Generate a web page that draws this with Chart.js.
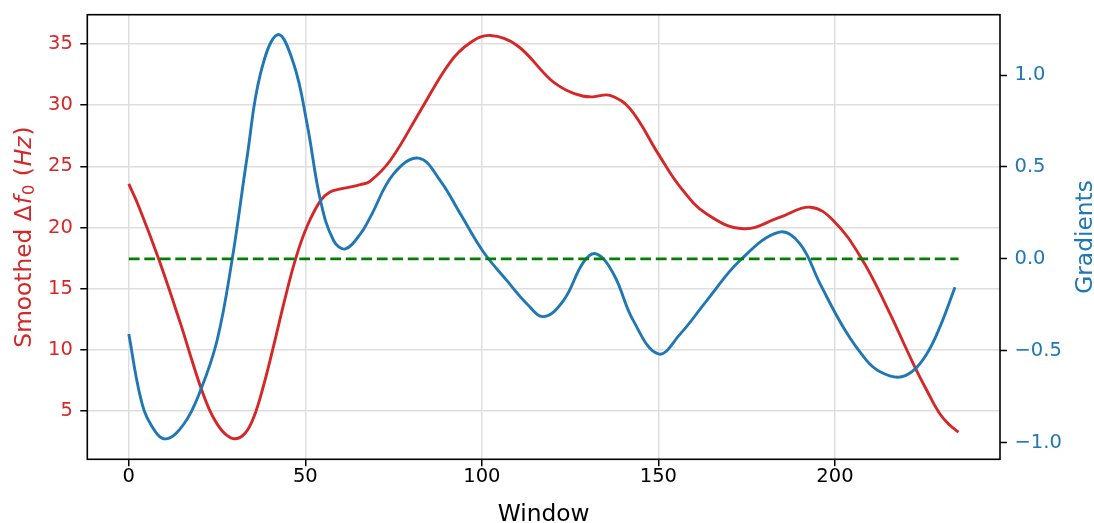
<!DOCTYPE html>
<html>
<head>
<meta charset="utf-8">
<script src="https://cdn.jsdelivr.net/npm/chart.js@4.4.1/dist/chart.umd.min.js"></script>
<style>
  html, body { margin: 0; padding: 0; background: #ffffff; }
  #wrap { width: 1094px; height: 523px; }
</style>
</head>
<body>
<div id="wrap"><canvas id="chart" width="1094" height="523"></canvas></div>
<script>
// Smoothed pitch-shift curve (left axis, Hz) sampled by analysis window
const windowsF0 = [0, 3, 8.5, 14.7, 17.5, 20.3, 22.7, 25, 27.6, 30.2, 33, 35.4, 38, 41, 44, 47.2, 50.5, 54.3, 57, 60, 65.6, 68.4, 74.1, 82.6, 91, 96.7, 102.4, 109.9, 119.4, 124.1, 128.5, 131.5, 136.3, 142, 150, 156.2, 163.7, 174.1, 184.5, 193, 199.6, 207.6, 214.7, 222.2, 226, 229.7, 232.5, 235];
const smoothedF0 = [23.56, 21.6, 17.4, 12.1, 9.5, 7.0, 5.2, 3.95, 3.05, 2.73, 3.2, 4.5, 6.9, 10.3, 13.9, 17.4, 20.1, 22.2, 22.9, 23.15, 23.5, 23.8, 25.5, 29.55, 33.5, 35.1, 35.7, 34.9, 32.1, 31.2, 30.75, 30.68, 30.8, 29.7, 26.0, 23.3, 21.1, 19.9, 20.84, 21.66, 20.56, 17.43, 13.49, 8.86, 6.7, 4.77, 3.85, 3.27];

// Gradient of the smoothed curve (right axis)
const windowsGrad = [0, 3.3, 6.2, 10.4, 15.6, 20.3, 25, 29.3, 33.5, 37.3, 42.2, 46.7, 50.5, 54.3, 58, 61.3, 65.6, 68.4, 75, 82.1, 88.2, 93.9, 100.5, 107.1, 112.8, 117.5, 123.1, 128.8, 132.4, 137.3, 142.9, 150, 156.2, 163.7, 173.1, 184.2, 190.1, 195.8, 202.8, 209, 212.8, 217.9, 222, 226, 229.7, 234];
const gradients = [-0.408, -0.752, -0.9, -0.979, -0.898, -0.716, -0.444, 0.0, 0.553, 1.007, 1.22, 1.061, 0.734, 0.317, 0.1, 0.054, 0.136, 0.227, 0.462, 0.548, 0.426, 0.245, 0.036, -0.118, -0.245, -0.314, -0.227, -0.018, 0.027, -0.082, -0.336, -0.517, -0.408, -0.227, -0.009, 0.145, 0.082, -0.136, -0.386, -0.553, -0.614, -0.644, -0.611, -0.517, -0.372, -0.154];

// Zero-gradient reference line
const zeroLineWindows = [0, 235];
const zeroLineLevel = [0, 0];

// Tick positions
const windowTicks = [0, 50, 100, 150, 200];
const f0Ticks = [5, 10, 15, 20, 25, 30, 35];
const gradTicks = [-1.0, -0.5, 0.0, 0.5, 1.0];

const RED = '#d62728';
const BLUE = '#1f77b4';
const GREEN = '#008000';
const GRID = '#dedede';
const FONT = "'DejaVu Sans', 'Liberation Sans', sans-serif";
const TICK_SIZE = 19.5;
const LABEL_SIZE = 23.3;

const pairs = (xs, ys) => xs.map((x, i) => ({ x: x, y: ys[i] }));
const fmtMinus = v => (v < 0 ? '\u2212' : '') + Math.abs(v).toFixed(1);

// Draws a run of differently styled text pieces along a (possibly rotated) baseline, centred on (cx, cy)
function drawRichText(ctx, pieces, cx, cy, angle, color) {
  ctx.save();
  ctx.translate(cx, cy);
  ctx.rotate(angle);
  ctx.fillStyle = color;
  ctx.textBaseline = 'alphabetic';
  ctx.textAlign = 'left';
  let total = 0;
  pieces.forEach(p => { ctx.font = p.font; p.w = ctx.measureText(p.text).width + (p.gap || 0); total += p.w; });
  let x = -total / 2;
  pieces.forEach(p => {
    ctx.font = p.font;
    ctx.fillText(p.text, x, p.dy || 0);
    x += p.w;
  });
  ctx.restore();
}

// Keeps the plot area at a fixed box regardless of label overhang
const noOverhang = s => { s.paddingTop = 0; s.paddingBottom = 0; s.paddingLeft = 0; s.paddingRight = 0; };

const framePlugin = {
  id: 'frameAndTitles',
  afterDraw(chart) {
    const { ctx, chartArea: a } = chart;
    ctx.save();
    ctx.strokeStyle = '#000000';
    ctx.lineWidth = 1.6;
    ctx.strokeRect(a.left, a.top, a.right - a.left, a.bottom - a.top);
    ctx.restore();

    const midY = (a.top + a.bottom) / 2;
    const reg = `${LABEL_SIZE}px ${FONT}`;
    const ita = `italic ${LABEL_SIZE}px ${FONT}`;
    const subUp = `${LABEL_SIZE * 0.7}px ${FONT}`;

    // Left axis title: Smoothed Δf₀ (Hz)
    drawRichText(ctx, [
      { text: 'Smoothed ', font: reg },
      { text: '\u0394', font: reg, gap: 1 },
      { text: 'f', font: ita, gap: 1 },
      { text: '0', font: subUp, dy: LABEL_SIZE * 0.15, gap: 1 },
      { text: ' ', font: reg },
      { text: '(', font: reg, gap: 1 },
      { text: 'Hz', font: ita, gap: 1 },
      { text: ')', font: reg }
    ], 30.5, midY, -Math.PI / 2, RED);

    // Right axis title
    drawRichText(ctx, [{ text: 'Gradients', font: reg }], 1092, midY, -Math.PI / 2, BLUE);

    // Bottom axis title
    drawRichText(ctx, [{ text: 'Window', font: reg }], (a.left + a.right) / 2, 521, 0, '#000000');
  }
};

new Chart(document.getElementById('chart'), {
  type: 'line',
  data: {
    datasets: [
      {
        label: 'zero',
        data: pairs(zeroLineWindows, zeroLineLevel),
        yAxisID: 'yGrad',
        borderColor: GREEN,
        borderWidth: 2.9,
        borderDash: [10.8, 4.7],
        pointRadius: 0,
        order: 1
      },
      {
        label: 'Gradients',
        data: pairs(windowsGrad, gradients),
        yAxisID: 'yGrad',
        borderColor: BLUE,
        borderWidth: 2.9,
        tension: 0.4,
        pointRadius: 0,
        order: 2
      },
      {
        label: 'Smoothed f0',
        data: pairs(windowsF0, smoothedF0),
        yAxisID: 'yF0',
        borderColor: RED,
        borderWidth: 2.9,
        tension: 0.4,
        pointRadius: 0,
        order: 3
      }
    ]
  },
  options: {
    responsive: false,
    animation: false,
    events: [],
    layout: { padding: { top: 14.7, left: 0, right: 0, bottom: 0 } },
    plugins: { legend: { display: false }, tooltip: { enabled: false } },
    scales: {
      x: {
        type: 'linear',
        position: 'bottom',
        min: -11.75,
        max: 246.75,
        afterBuildTicks: s => { s.ticks = windowTicks.map(v => ({ value: v })); },
        afterFit: s => { s.height = 523 - 459.3; noOverhang(s); },
        ticks: {
          color: '#000000',
          font: { family: FONT, size: TICK_SIZE },
          padding: -1.5,
          maxRotation: 0,
          autoSkip: false,
          callback: v => String(v)
        },
        grid: { color: GRID, lineWidth: 1.5, tickColor: '#000000', tickLength: 7, tickWidth: 1.5 },
        border: { display: false }
      },
      yF0: {
        type: 'linear',
        position: 'left',
        min: 1.052,
        max: 37.395,
        afterBuildTicks: s => { s.ticks = f0Ticks.map(v => ({ value: v })); },
        afterFit: s => { s.width = 87.3; noOverhang(s); },
        ticks: {
          color: RED,
          font: { family: FONT, size: TICK_SIZE },
          padding: 7.5,
          autoSkip: false,
          callback: v => String(v)
        },
        grid: { color: GRID, lineWidth: 1.5, tickColor: '#000000', tickLength: 7, tickWidth: 1.5 },
        border: { display: false }
      },
      yGrad: {
        type: 'linear',
        position: 'right',
        min: -1.090,
        max: 1.328,
        afterBuildTicks: s => { s.ticks = gradTicks.map(v => ({ value: v })); },
        afterFit: s => { s.width = 94; noOverhang(s); },
        ticks: {
          color: BLUE,
          font: { family: FONT, size: TICK_SIZE },
          padding: 7.5,
          autoSkip: false,
          callback: v => fmtMinus(v)
        },
        grid: { drawOnChartArea: false, color: GRID, tickColor: '#000000', tickLength: 7, tickWidth: 1.5 },
        border: { display: false }
      }
    }
  },
  plugins: [framePlugin]
});
</script>
</body>
</html>
